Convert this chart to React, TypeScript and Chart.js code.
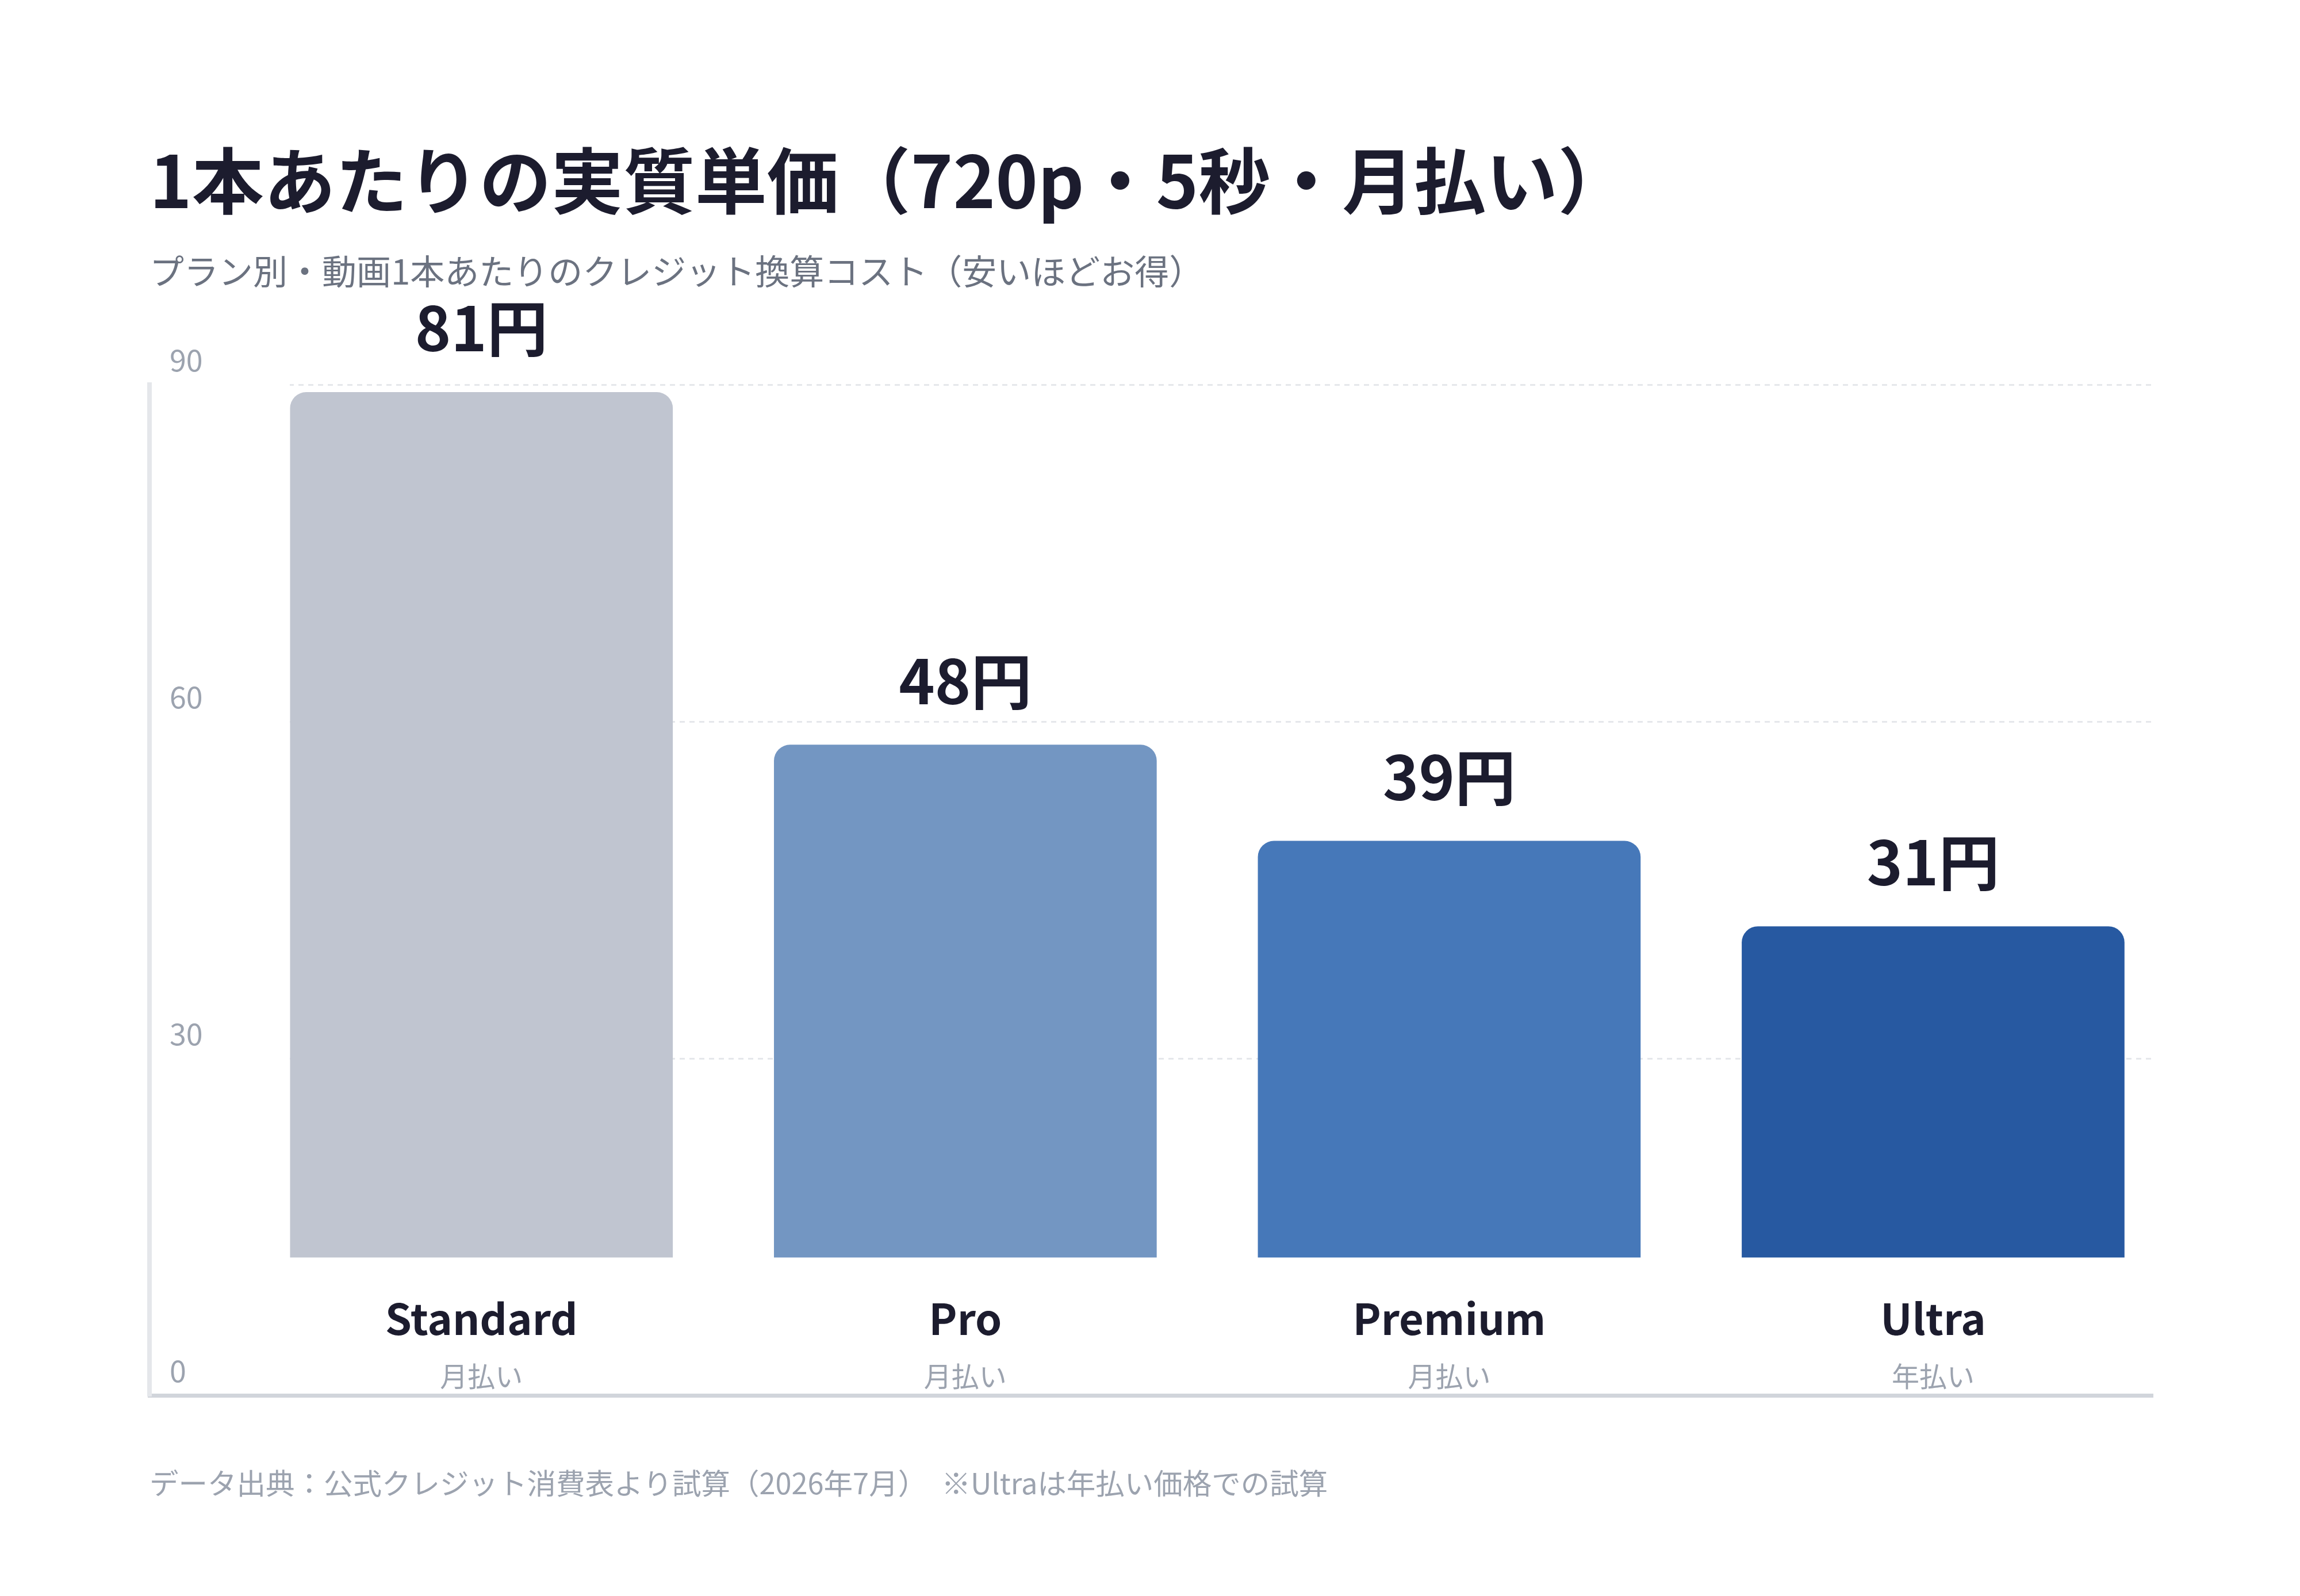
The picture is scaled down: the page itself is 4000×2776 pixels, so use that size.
import { useEffect, useRef } from 'react';
import { Chart, registerables } from 'chart.js';

Chart.register(...registerables);

// Plans, billing cycle and effective credit cost per video (JPY)
const plans = ['Standard', 'Pro', 'Premium', 'Ultra'];
const billing = ['月払い', '月払い', '月払い', '年払い'];
const costPerVideo = [81, 48, 39, 31];
const barColors = ['#c0c5d0', '#7396c2', '#4678b9', '#2759a1'];
const yTickValues = [0, 30, 60, 90];

const TITLE = '1本あたりの実質単価（720p・5秒・月払い）';
const SUBTITLE = 'プラン別・動画1本あたりのクレジット換算コスト（安いほどお得）';
const FOOTNOTE = 'データ出典：公式クレジット消費表より試算（2026年7月）　※Ultraは年払い価格での試算';

const FONT = '"Noto Sans CJK JP", "Noto Sans", sans-serif';
const INK = '#1c1c2e';
const MUTED = '#9ca3af';
const GRID = '#e5e7eb';

// Price labels above each bar
const valueLabels = {
  id: 'valueLabels',
  afterDatasetsDraw(chart: any) {
    const { ctx } = chart;
    const meta = chart.getDatasetMeta(0);
    ctx.save();
    ctx.font = `700 106px ${FONT}`;
    ctx.fillStyle = INK;
    ctx.textAlign = 'center';
    ctx.textBaseline = 'middle';
    meta.data.forEach((bar: any, i: number) => {
      ctx.fillText(`${costPerVideo[i]}円`, bar.x, bar.y - 111);
    });
    ctx.restore();
  },
};

// Source note under the plot
const footnote = {
  id: 'footnote',
  afterDraw(chart: any) {
    const { ctx, chartArea } = chart;
    ctx.save();
    ctx.font = `400 50.5px ${FONT}`;
    ctx.fillStyle = MUTED;
    ctx.textAlign = 'left';
    ctx.textBaseline = 'middle';
    ctx.fillText(FOOTNOTE, chartArea.left, chartArea.bottom + 153);
    ctx.restore();
  },
};

// Horizontal grid lines start at the first bar's left edge
function gridColor(ctx: any) {
  const chart = ctx.chart;
  const area = chart.chartArea;
  const first = chart.getDatasetMeta(0).data[0];
  if (!area || !first || !isFinite(first.x) || !isFinite(first.width)) return GRID;
  const start = first.x - first.width / 2;
  const f = Math.min(Math.max((start - area.left) / (area.right - area.left), 0), 1);
  const g = chart.ctx.createLinearGradient(area.left, 0, area.right, 0);
  g.addColorStop(0, 'rgba(229,231,235,0)');
  g.addColorStop(f, 'rgba(229,231,235,0)');
  g.addColorStop(f, GRID);
  g.addColorStop(1, GRID);
  return g;
}

const planTicks = (scale: any) => {
  scale.ticks = plans.map((_, i) => ({ value: i }));
};

export default function App() {
  const canvasRef = useRef<HTMLCanvasElement>(null);

  useEffect(() => {
    const canvas = canvasRef.current;
    if (!canvas) return;

    const chart = new Chart(canvas, {
      type: 'bar',
      data: {
        datasets: [
          {
            data: costPerVideo.map((v, i) => ({ x: i, y: v })),
            backgroundColor: barColors,
            borderWidth: 0,
            borderRadius: { topLeft: 28, topRight: 28, bottomLeft: 0, bottomRight: 0 },
            borderSkipped: 'start',
            categoryPercentage: 1,
            barPercentage: 0.791,
            xAxisID: 'x',
            yAxisID: 'yBar',
          },
        ],
      },
      options: {
        responsive: false,
        animation: false,
        events: [],
        layout: { padding: { top: 200, left: 260, right: 256, bottom: 349 } },
        plugins: {
          legend: { display: false },
          tooltip: { enabled: false },
          title: {
            display: true,
            text: TITLE,
            align: 'start',
            color: INK,
            font: { family: FONT, size: 125, weight: '700', lineHeight: 1.2 },
            padding: { top: 39, bottom: 0 },
          },
          subtitle: {
            display: true,
            text: SUBTITLE,
            align: 'start',
            color: '#6b7280',
            font: { family: FONT, size: 60, weight: '400', lineHeight: 1.2 },
            padding: { top: 47, bottom: 161 },
          },
        },
        scales: {
          x: {
            type: 'linear',
            position: 'bottom',
            min: -0.686,
            max: 3.454,
            offset: false,
            afterBuildTicks: planTicks,
            afterFit: (s: any) => {
              s.height = 0;
            },
            grid: { display: true, drawOnChartArea: false, drawTicks: false, offset: false },
            border: { display: true, color: '#d1d5db', width: 7 },
            ticks: {
              mirror: true,
              autoSkip: false,
              maxRotation: 0,
              minRotation: 0,
              padding: 96.5,
              color: INK,
              font: { family: FONT, size: 74, weight: '700', lineHeight: 1 },
              callback: (v: any) => plans[v],
            },
          },
          x2: {
            type: 'linear',
            position: 'bottom',
            min: -0.686,
            max: 3.454,
            offset: false,
            afterBuildTicks: planTicks,
            afterFit: (s: any) => {
              s.height = 0;
            },
            grid: { display: false, drawTicks: false, offset: false },
            border: { display: false },
            ticks: {
              mirror: true,
              autoSkip: false,
              maxRotation: 0,
              minRotation: 0,
              padding: 9,
              color: MUTED,
              font: { family: FONT, size: 48, weight: '400', lineHeight: 1 },
              callback: (v: any) => billing[v],
            },
          },
          y: {
            type: 'linear',
            position: 'left',
            min: 0,
            max: 90,
            afterBuildTicks: (scale: any) => {
              scale.ticks = yTickValues.map((value) => ({ value }));
            },
            afterFit: (s: any) => {
              s.width = 0;
            },
            grid: { color: gridColor, lineWidth: 3, drawTicks: false },
            border: { display: true, color: GRID, width: 8, dash: [9, 8] },
            ticks: {
              mirror: true,
              padding: 35,
              labelOffset: -43,
              color: MUTED,
              font: { family: FONT, size: 52, weight: '400', lineHeight: 1 },
            },
          },
          yBar: {
            type: 'linear',
            display: false,
            min: -12.9,
            max: 81.7,
          },
        },
      },
      plugins: [valueLabels, footnote],
    } as any);

    return () => chart.destroy();
  }, []);

  return (
    <canvas
      ref={canvasRef}
      width={4000}
      height={2776}
      style={{ position: 'fixed', left: 0, top: 0, display: 'block' }}
    />
  );
}
